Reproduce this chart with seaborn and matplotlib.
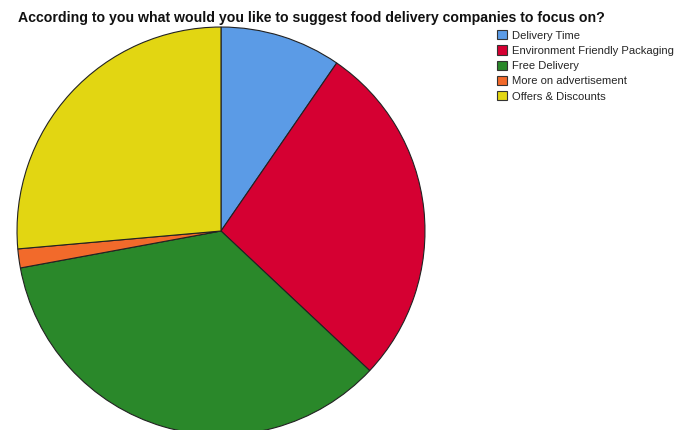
import matplotlib
matplotlib.use("Agg")
import matplotlib.pyplot as plt
import seaborn as sns

categories = ["Delivery Time", "Environment Friendly Packaging", "Free Delivery",
              "More on advertisement", "Offers & Discounts"]
percent = [9.6, 27.4, 35.1, 1.5, 26.4]
colors = ["#5b9be6", "#d50032", "#2a882a", "#f26a2b", "#e2d612"]
title = "According to you what would you like to suggest food delivery companies to focus on?"

sns.set_theme(style="white")
plt.rcParams["font.family"] = ["Liberation Sans", "DejaVu Sans"]

fig = plt.figure(figsize=(6.83, 4.30), dpi=100)
fig.patch.set_facecolor("white")
ax = fig.add_axes([16 / 683, -6 / 430, 410 / 683, 410 / 430])
wedges, _ = ax.pie(percent, colors=sns.color_palette(colors), startangle=90, counterclock=False,
                   radius=1, wedgeprops=dict(edgecolor="#222222", linewidth=0.8))
ax.set_xlim(-1.005, 1.005)
ax.set_ylim(-1.005, 1.005)
ax.axis("off")

fig.text(18 / 683, 1 - 22 / 430, title, fontsize=10.15, fontweight="bold", color="#111111")

leg = fig.legend(wedges, categories, loc="upper left", bbox_to_anchor=(497 / 683, 1 - 30 / 430),
                 frameon=False, fontsize=8.15, handlelength=0.88, handleheight=0.88,
                 handletextpad=0.42, labelspacing=0.42, borderpad=0, borderaxespad=0)
for h in leg.legend_handles:
    h.set_edgecolor("#333333")
    h.set_linewidth(0.8)

fig.savefig("out.png", dpi=100)
